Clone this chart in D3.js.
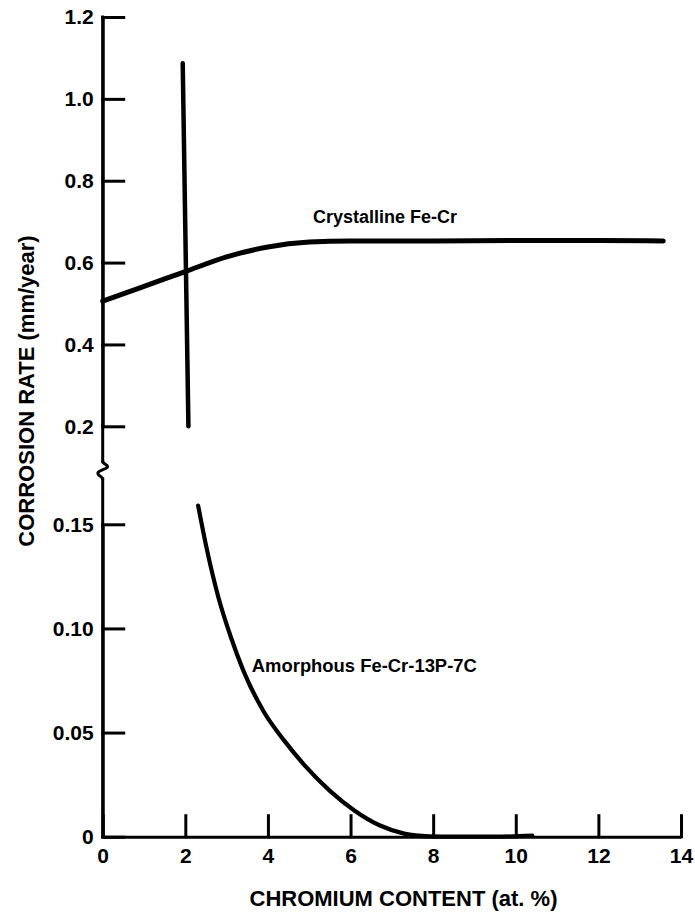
<!DOCTYPE html>
<html>
<head>
<meta charset="utf-8">
<script src="https://cdn.jsdelivr.net/npm/d3@7"></script>
<style>
  html, body { margin: 0; padding: 0; background: #fff; }
  svg { display: block; }
  text { font-family: "Liberation Sans", Arial, Helvetica, sans-serif; font-weight: bold; fill: #000; }
</style>
</head>
<body>
<svg id="chart" width="695" height="915"></svg>
<script>
// ---------- data ----------
const xTicks = [0, 2, 4, 6, 8, 10, 12, 14];
const xTickLabels = ["0", "2", "4", "6", "8", "10", "12", "14"];

const upperTicks = [0.2, 0.4, 0.6, 0.8, 1.0, 1.2];
const upperTickLabels = ["0.2", "0.4", "0.6", "0.8", "1.0", "1.2"];
const lowerTicks = [0, 0.05, 0.10, 0.15];
const lowerTickLabels = ["0", "0.05", "0.10", "0.15"];

// Crystalline Fe-Cr (upper panel) [Cr at.%, mm/year]
const crystallineCr   = [0, 1, 2, 3, 4, 5, 6, 8, 10, 12, 13.57];
const crystallineRate = [0.506, 0.542, 0.578, 0.614, 0.638, 0.650, 0.653, 0.653, 0.654, 0.654, 0.653];

// vertical line near 2 at.% (upper panel)
const verticalCr   = [1.937, 2.075];
const verticalRate = [1.087, 0.200];

// Amorphous Fe-Cr-13P-7C (lower panel)
const amorphousCr   = [2.31, 2.5, 2.8, 3.1, 3.4, 3.9, 4.4, 4.9, 5.5, 6.1, 6.7, 7.3, 7.9, 8.5, 9.5, 10.4];
const amorphousRate = [0.159, 0.140, 0.115, 0.096, 0.080, 0.060, 0.046, 0.034, 0.022, 0.0125, 0.0055, 0.0015, 0.0002, 0.0, 0.0, 0.0005];

const seriesLabels = ["Crystalline Fe-Cr", "Amorphous Fe-Cr-13P-7C"];
const xTitle = "CHROMIUM CONTENT (at. %)";
const yTitle = "CORROSION RATE (mm/year)";

// ---------- layout ----------
const svg = d3.select("#chart");
const x = d3.scaleLinear().domain([0, 14]).range([102.7, 681]);
const yU = d3.scaleLinear().domain([0.2, 1.2]).range([426.3, 17]);
const yL = d3.scaleLinear().domain([0, 0.15]).range([836.7, 524.3]);

const AX = 3; // axis stroke

// ---------- axes (domain kept as the y-axis line) ----------
const upperAxis = d3.axisLeft(yU)
  .tickValues(upperTicks)
  .tickFormat((d, i) => upperTickLabels[i])
  .tickSize(-21).tickSizeOuter(0).tickPadding(9);
const lowerAxis = d3.axisLeft(yL)
  .tickValues(lowerTicks)
  .tickFormat((d, i) => lowerTickLabels[i])
  .tickSize(-21).tickSizeOuter(0).tickPadding(9);
const xAxis = d3.axisBottom(x)
  .tickValues(xTicks)
  .tickFormat((d, i) => xTickLabels[i])
  .tickSize(-21).tickSizeOuter(0).tickPadding(11.5);

function styleAxis(g) {
  g.select(".domain").attr("stroke", "#000").attr("stroke-width", AX).attr("fill", "none");
  g.selectAll(".tick line").attr("stroke", "#000").attr("stroke-width", AX).attr("stroke-linecap", "square");
  g.selectAll(".tick text").style("font-size", "21px").style("font-weight", "bold")
    .style("font-family", "'Liberation Sans', Arial, sans-serif").attr("fill", "#000");
}

svg.append("g").attr("transform", `translate(${x(0)},0)`).call(upperAxis).call(styleAxis);
svg.append("g").attr("transform", `translate(${x(0)},0)`).call(lowerAxis).call(styleAxis);
svg.append("g").attr("transform", `translate(0,${yL(0)})`).call(xAxis).call(styleAxis);

// ---------- series ----------
const crystalline = crystallineCr.map((c, i) => [c, crystallineRate[i]]);
const vertical = verticalCr.map((c, i) => [c, verticalRate[i]]);
const amorphous = amorphousCr.map((c, i) => [c, amorphousRate[i]]);

svg.append("path")
  .attr("d", d3.line().x(d => x(d[0])).y(d => yU(d[1])).curve(d3.curveMonotoneX)(crystalline))
  .attr("fill", "none").attr("stroke", "#000").attr("stroke-width", 5)
  .attr("stroke-linecap", "round").attr("stroke-linejoin", "round");

svg.append("path")
  .attr("d", d3.line().x(d => x(d[0])).y(d => yU(d[1]))(vertical))
  .attr("fill", "none").attr("stroke", "#000").attr("stroke-width", 4.5)
  .attr("stroke-linecap", "round");

svg.append("path")
  .attr("d", d3.line().x(d => x(d[0])).y(d => yL(d[1])).curve(d3.curveMonotoneX)(amorphous))
  .attr("fill", "none").attr("stroke", "#000").attr("stroke-width", 4.2)
  .attr("stroke-linecap", "round").attr("stroke-linejoin", "round");

// ---------- labels ----------
svg.append("text")
  .attr("x", x(5.09)).attr("y", yU(0.697))
  .style("font-size", "18px")
  .attr("textLength", 144).attr("lengthAdjust", "spacingAndGlyphs")
  .text(seriesLabels[0]);

svg.append("text")
  .attr("x", x(3.61)).attr("y", yL(0.079))
  .style("font-size", "18px")
  .attr("textLength", 225).attr("lengthAdjust", "spacingAndGlyphs")
  .text(seriesLabels[1]);

svg.append("text")
  .attr("x", 403.5).attr("y", 906)
  .attr("text-anchor", "middle")
  .style("font-size", "22px")
  .text(xTitle);

svg.append("text")
  .attr("transform", "translate(34,391) rotate(-90)")
  .attr("text-anchor", "middle")
  .style("font-size", "22px")
  .text(yTitle);

// ---------- y axis line segments + break, drawn on top ----------
const x0 = x(0);
const yb = (yU(0.2) + yL(0.15)) / 2 - 5;
const axisLine = d3.path();
axisLine.moveTo(x0, yU(1.2) - 1.5);
axisLine.lineTo(x0, yb - 7);
axisLine.moveTo(x0, yb + 7);
axisLine.lineTo(x0, yL(0) + 1.5);
svg.append("path")
  .attr("d", axisLine.toString())
  .attr("fill", "none").attr("stroke", "#000").attr("stroke-width", AX);

const breakPts = [
  [x0, yb - 10], [x0, yb - 7], [x0 + 9, yb - 3], [x0 - 9, yb + 2],
  [x0, yb + 7], [x0, yb + 10]
];
svg.append("path")
  .attr("d", d3.line().curve(d3.curveBasis)(breakPts))
  .attr("fill", "none").attr("stroke", "#000").attr("stroke-width", AX);
</script>
</body>
</html>
